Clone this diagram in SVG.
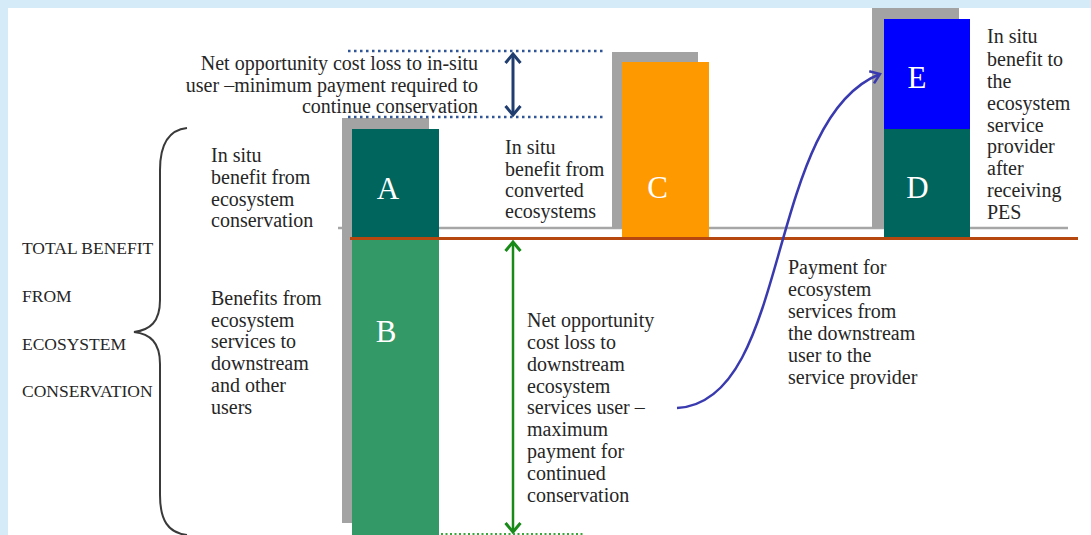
<svg xmlns="http://www.w3.org/2000/svg" width="1091" height="535" viewBox="0 0 1091 535">
<style>
.t{font-family:"Liberation Serif","Times New Roman",serif;font-size:20px;fill:#262626}
.cap{font-family:"Liberation Serif","Times New Roman",serif;font-size:17.5px;fill:#262626}
.lbl{font-family:"Liberation Serif","Times New Roman",serif;font-size:31px;fill:#ffffff;text-anchor:middle}
.shadow{fill:#a3a3a3}
</style>
<defs>
<marker id="hNavy" markerUnits="userSpaceOnUse" markerWidth="12" markerHeight="18" viewBox="0 0 12 18" refX="10" refY="9" orient="auto-start-reverse">
<path d="M1,1.5 L10,9 L1,16.5" fill="none" stroke="#1f3d6e" stroke-width="3"/>
</marker>
<marker id="hGreen" markerUnits="userSpaceOnUse" markerWidth="12" markerHeight="18" viewBox="0 0 12 18" refX="10" refY="9" orient="auto-start-reverse">
<path d="M1,1.5 L10,9 L1,16.5" fill="none" stroke="#178a17" stroke-width="3"/>
</marker>
<marker id="hPay" markerUnits="userSpaceOnUse" markerWidth="12" markerHeight="16" viewBox="0 0 12 16" refX="10" refY="8" orient="auto">
<path d="M1,1.5 L10,8 L1,14.5" fill="none" stroke="#3a3ab0" stroke-width="2.5"/>
</marker>
</defs>
<rect x="0" y="0" width="1091" height="535" fill="#d6ebf8"/>
<rect x="8" y="8" width="1083" height="527" fill="#ffffff"/>

<g id="baselines">
<line x1="338" y1="228" x2="1068" y2="228" stroke="#a6a6a6" stroke-width="2.5"/>
</g>

<g id="barAB">
<rect class="shadow" x="342" y="118" width="87" height="405"/>
<rect x="352" y="129" width="87" height="109" fill="#00655d"/>
<rect x="352" y="238" width="87" height="297" fill="#339966"/>
<text class="lbl" x="388" y="199">A</text>
<text class="lbl" x="386" y="342">B</text>
</g>

<g id="barC">
<rect class="shadow" x="612" y="52" width="86" height="176"/>
<rect x="622" y="62" width="87" height="176" fill="#ff9900"/>
<text class="lbl" x="657.5" y="198">C</text>
</g>

<g id="barDE">
<rect class="shadow" x="872" y="8" width="87" height="220"/>
<rect x="884" y="19" width="86" height="110" fill="#0000ff"/>
<rect x="884" y="129" width="86" height="109" fill="#00655d"/>
<text class="lbl" x="917" y="88">E</text>
<text class="lbl" x="917.5" y="198">D</text>
</g>

<g id="refline">
<line x1="350" y1="238.5" x2="1078" y2="238.5" stroke="#b5470f" stroke-width="3"/>
</g>

<g id="connectors">
<line x1="348" y1="51" x2="606" y2="51" stroke="#2f5597" stroke-width="2.5" stroke-dasharray="2.5 3.5"/>
<line x1="348" y1="117" x2="606" y2="117" stroke="#2f5597" stroke-width="2.5" stroke-dasharray="2.5 3.5"/>
<line x1="513" y1="54" x2="513" y2="115" stroke="#1f3d6e" stroke-width="3" marker-start="url(#hNavy)" marker-end="url(#hNavy)"/>
<line x1="513" y1="242" x2="513" y2="532" stroke="#178a17" stroke-width="2.5" marker-start="url(#hGreen)" marker-end="url(#hGreen)"/>
<line x1="441" y1="534" x2="585" y2="534" stroke="#3aa63a" stroke-width="2" stroke-dasharray="2 2.5"/>
<path d="M677,408 C792,402 764,120 880,74" fill="none" stroke="#3a3ab0" stroke-width="2.5" marker-end="url(#hPay)"/>
<path d="M187,128 C168,130 160,145 160,170 L160,300 C160,322 150,330 134,332 C150,334 160,342 160,364 L160,495 C160,520 168,533 187,535" fill="none" stroke="#3a3a3a" stroke-width="2"/>
</g>

<g id="text-top">
<text class="t" text-anchor="end"><tspan x="478" y="70">Net opportunity cost loss to in-situ</tspan><tspan x="478" y="92">user –minimum payment required to</tspan><tspan x="478" y="113">continue conservation</tspan></text>
</g>

<g id="text-total">
<text class="cap" x="22" y="254">TOTAL BENEFIT</text>
<text class="cap" x="22" y="302">FROM</text>
<text class="cap" x="22" y="350">ECOSYSTEM</text>
<text class="cap" x="22" y="397">CONSERVATION</text>
</g>

<g id="text-a">
<text class="t"><tspan x="211" y="162">In situ</tspan><tspan x="211" y="184">benefit from</tspan><tspan x="211" y="206">ecosystem</tspan><tspan x="211" y="227">conservation</tspan></text>
</g>

<g id="text-b">
<text class="t"><tspan x="211" y="305">Benefits from</tspan><tspan x="211" y="327">ecosystem</tspan><tspan x="211" y="348">services to</tspan><tspan x="211" y="370">downstream</tspan><tspan x="211" y="392">and other</tspan><tspan x="211" y="414">users</tspan></text>
</g>

<g id="text-c">
<text class="t"><tspan x="505" y="154">In situ</tspan><tspan x="505" y="176">benefit from</tspan><tspan x="505" y="197">converted</tspan><tspan x="505" y="218">ecosystems</tspan></text>
</g>

<g id="text-green">
<text class="t"><tspan x="527" y="327">Net opportunity</tspan><tspan x="527" y="349">cost loss to</tspan><tspan x="527" y="371">downstream</tspan><tspan x="527" y="393">ecosystem</tspan><tspan x="527" y="414">services user –</tspan><tspan x="527" y="436">maximum</tspan><tspan x="527" y="458">payment for</tspan><tspan x="527" y="480">continued</tspan><tspan x="527" y="502">conservation</tspan></text>
</g>

<g id="text-pay">
<text class="t"><tspan x="788" y="274">Payment for</tspan><tspan x="788" y="296">ecosystem</tspan><tspan x="788" y="318">services from</tspan><tspan x="788" y="340">the downstream</tspan><tspan x="788" y="362">user to the</tspan><tspan x="788" y="384">service provider</tspan></text>
</g>

<g id="text-e">
<text class="t"><tspan x="987" y="43">In situ</tspan><tspan x="987" y="66">benefit to</tspan><tspan x="987" y="88">the</tspan><tspan x="987" y="110">ecosystem</tspan><tspan x="987" y="132">service</tspan><tspan x="987" y="153">provider</tspan><tspan x="987" y="175">after</tspan><tspan x="987" y="197">receiving</tspan><tspan x="987" y="219">PES</tspan></text>
</g>
</svg>
